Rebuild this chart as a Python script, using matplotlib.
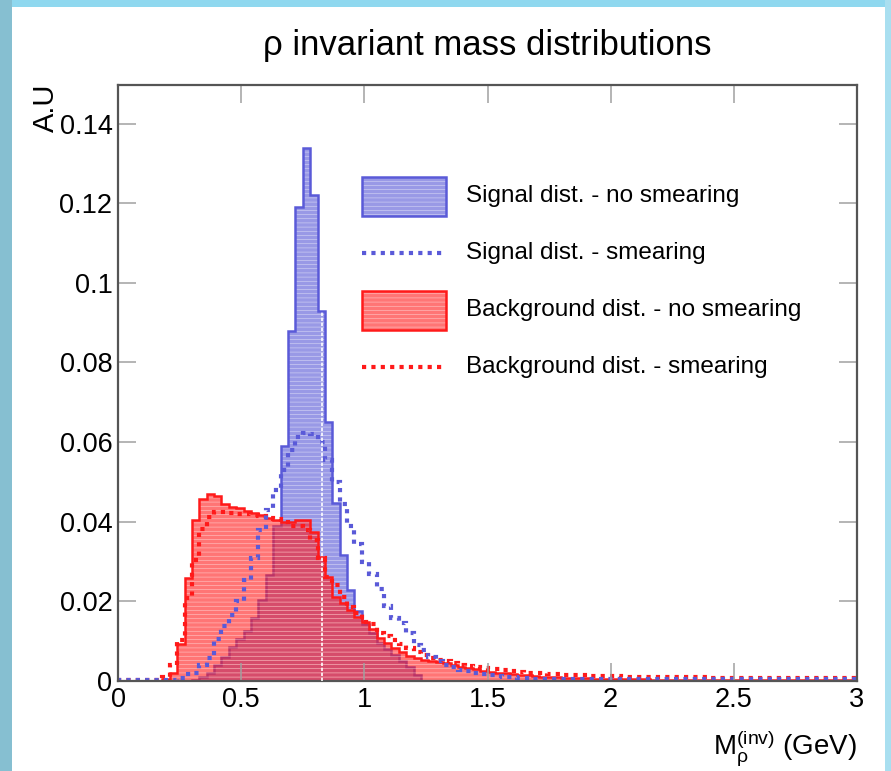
import numpy as np
import matplotlib
matplotlib.use("Agg")
from matplotlib import pyplot as plt
from matplotlib.patches import Rectangle
from matplotlib.lines import Line2D
from matplotlib.ticker import FuncFormatter

plt.rcParams['font.family'] = ['Liberation Sans', 'DejaVu Sans']
plt.rcParams['mathtext.fontset'] = 'custom'
plt.rcParams['mathtext.rm'] = 'Liberation Sans'
plt.rcParams['mathtext.it'] = 'Liberation Sans'
plt.rcParams['hatch.linewidth'] = 0.4

# 100 bins from 0 to 3 GeV
x_min, x_max, n_bins = 0.0, 3.0, 100

# signal, no smearing
signal_nosmear = [
    0, 0, 0, 0, 0, 0, 0, 0, 0, 0,
    0.0003, 0.001, 0.002, 0.004, 0.006, 0.0085, 0.0105, 0.0126, 0.0157, 0.0203,
    0.0265, 0.039, 0.059, 0.088, 0.119, 0.134, 0.122, 0.093, 0.065, 0.0446,
    0.0317, 0.0229, 0.0177, 0.0143, 0.012, 0.0095, 0.008, 0.0065, 0.005, 0.0035,
    0.0015] + [0.0] * 59

# signal, smearing
signal_smear = [
    0.0003, 0.0003, 0.0003, 0.0003, 0.0003, 0.0003, 0.0003, 0.0003, 0.0008, 0.0018,
    0.002, 0.004, 0.0057, 0.0105, 0.0139, 0.0166, 0.02, 0.0254, 0.0308, 0.038,
    0.043, 0.048, 0.053, 0.058, 0.0614, 0.0623, 0.062, 0.060, 0.0555, 0.050,
    0.0445, 0.039, 0.0345, 0.030, 0.027, 0.023, 0.0188, 0.0157, 0.0145, 0.012,
    0.009, 0.0078, 0.0061, 0.0049, 0.004, 0.0034, 0.0028, 0.0025, 0.0021, 0.0018,
    0.0014, 0.0012, 0.001, 0.0009, 0.0008, 0.0007, 0.0006, 0.0006, 0.0006, 0.0006,
    0.0005, 0.0005, 0.0005, 0.0005, 0.0005, 0.0005, 0.0005, 0.0005, 0.0005, 0.0005] + [0.0004] * 30

# background, no smearing
bkg_nosmear = [
    0, 0, 0, 0, 0, 0, 0.0005, 0.002, 0.0092, 0.0258,
    0.0405, 0.0457, 0.047, 0.0465, 0.0445, 0.0438, 0.0434, 0.0428, 0.0421, 0.0416,
    0.041, 0.0405, 0.040, 0.040, 0.0405, 0.0405, 0.0373, 0.0312, 0.0262, 0.0212,
    0.0195, 0.0178, 0.0162, 0.0147, 0.013, 0.0108, 0.0095, 0.0082, 0.0072, 0.0063,
    0.0058, 0.0053, 0.005, 0.0047, 0.0044, 0.004, 0.0036, 0.0032, 0.0029, 0.0026,
    0.0023, 0.0021, 0.0019, 0.0018, 0.0016, 0.0014, 0.0012, 0.0011, 0.001, 0.0009,
    0.0008, 0.0008, 0.0007, 0.0007, 0.0006, 0.0006, 0.0005, 0.0005, 0.0005, 0.0004,
    0.0004, 0.0004, 0.0003, 0.0003, 0.0003, 0.0003, 0.0003, 0.0002, 0.0002, 0.0002] + [0.0002] * 20

# background, smearing
bkg_smear = [
    0.0003, 0.0003, 0.0003, 0.0003, 0.0003, 0.0003, 0.001, 0.004, 0.0103, 0.0208,
    0.0304, 0.0381, 0.0413, 0.0424, 0.0424, 0.0421, 0.0419, 0.0419, 0.0417, 0.0414,
    0.041, 0.0408, 0.040, 0.039, 0.039, 0.038, 0.0354, 0.031, 0.026, 0.024,
    0.0212, 0.0185, 0.017, 0.0149, 0.0143, 0.012, 0.0112, 0.0102, 0.0094, 0.0082,
    0.0072, 0.0065, 0.0058, 0.0053, 0.005, 0.0045, 0.004, 0.0037, 0.0035, 0.0033,
    0.0031, 0.0029, 0.0027, 0.0025, 0.0023, 0.0021, 0.002, 0.0019, 0.0018, 0.0017,
    0.0016, 0.0015, 0.0015, 0.0014, 0.0013, 0.0013, 0.0012, 0.0012, 0.0011, 0.0011,
    0.001, 0.001, 0.001, 0.001, 0.001, 0.0009, 0.0009, 0.0009, 0.0009, 0.0009] + [0.0008] * 20

labels = ["Signal dist. - no smearing", "Signal dist. - smearing",
          "Background dist. - no smearing", "Background dist. - smearing"]

blue = '#5a5ad8'
red = '#ff1a1a'
blue_alpha, red_alpha = 0.62, 0.6
dotted = (0, (1.0, 1.25))

edges = np.linspace(x_min, x_max, n_bins + 1)

fig = plt.figure(figsize=(8.91, 7.71), dpi=100)
fig.patch.set_facecolor('white')

# slide frame around the canvas
fig.patches.append(Rectangle((0, 1 - 7 / 771), 1, 7 / 771, transform=fig.transFigure,
                             facecolor='#8fd8ef', edgecolor='none', zorder=0))
fig.patches.append(Rectangle((0, 0), 12 / 891, 1, transform=fig.transFigure,
                             facecolor='#86bfd1', edgecolor='none', zorder=0))
fig.patches.append(Rectangle((1 - 6 / 891, 0), 6 / 891, 1, transform=fig.transFigure,
                             facecolor='#a9dff0', edgecolor='none', zorder=0))

ax = fig.add_axes([118 / 891, 1 - 681 / 771, 739 / 891, 596 / 771])

# filled histograms (signal first, background on top)
ax.stairs(signal_nosmear, edges, fill=True, facecolor=blue, edgecolor='white',
          hatch='----', alpha=blue_alpha, linewidth=0)
ax.stairs(signal_nosmear, edges, color=blue, linewidth=1.8)
ax.vlines(0.827, 0, signal_nosmear[27], color='white', linewidth=1.2,
          linestyle=(0, (2, 1)), zorder=3)
ax.stairs(bkg_nosmear, edges, fill=True, facecolor=red, edgecolor='white',
          hatch='----', alpha=red_alpha, linewidth=0)
ax.stairs(bkg_nosmear, edges, color=red, linewidth=1.8)

# smeared distributions
ax.stairs(bkg_smear, edges, color=red, linewidth=3.0, linestyle=dotted)
ax.stairs(signal_smear, edges, color=blue, linewidth=3.0, linestyle=dotted)

ax.set_xlim(x_min, x_max)
ax.set_ylim(0, 0.1497)
ax.set_xticks([0, 0.5, 1, 1.5, 2, 2.5, 3])
ax.set_yticks([0, 0.02, 0.04, 0.06, 0.08, 0.1, 0.12, 0.14])
ax.yaxis.set_major_formatter(FuncFormatter(lambda v, p: '%g' % v))
ax.xaxis.set_major_formatter(FuncFormatter(lambda v, p: '%g' % v))
ax.tick_params(direction='in', length=13, width=1.1, color='#a0a0a0',
               top=True, right=True, labelsize=19.5, pad=4)
for sp in ax.spines.values():
    sp.set_color('#555555')
    sp.set_linewidth(1.6)

# legend drawn in axes coords
def ax_xy(px, py):
    return (px - 118) / 739, (681 - py) / 596

for i, (lab, col, kind) in enumerate(zip(labels, [blue, blue, red, red],
                                         ['box', 'line', 'box', 'line'])):
    yc = [196, 253, 310, 367][i]
    if kind == 'box':
        x0, y0 = ax_xy(362, yc + 19.5)
        ax.add_patch(Rectangle((x0, y0), 84 / 739, 39 / 596, transform=ax.transAxes,
                               facecolor=col, edgecolor='white', hatch='----',
                               alpha=blue_alpha if col == blue else red_alpha, linewidth=0))
        ax.add_patch(Rectangle((x0, y0), 84 / 739, 39 / 596, transform=ax.transAxes,
                               facecolor='none', edgecolor=col, linewidth=1.8))
    else:
        xa, ya = ax_xy(362, yc)
        xb, _ = ax_xy(446, yc)
        ax.add_line(Line2D([xa, xb], [ya, ya], transform=ax.transAxes, color=col,
                           linewidth=3.0, linestyle=dotted))
    tx, ty = ax_xy(466, yc)
    ax.text(tx, ty, lab, transform=ax.transAxes, fontsize=17.5, va='center', ha='left')

fig.text(487 / 891, 1 - 45 / 771, "\u03c1 invariant mass distributions",
         fontsize=25, ha='center', va='center')
fig.text(46 / 891, 1 - 84 / 771, "A.U", fontsize=21, rotation=90, ha='center', va='top')
fig.text(857 / 891, 1 - 748 / 771, r"$\mathrm{M}_{\rho}^{(\mathrm{inv})}$ (GeV)",
         fontsize=20, ha='right', va='center')

fig.savefig("out.png", dpi=100)
